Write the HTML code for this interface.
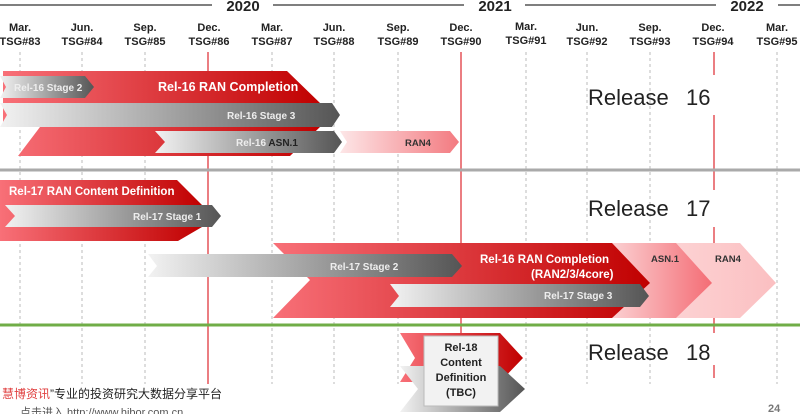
<!DOCTYPE html>
<html><head><meta charset="utf-8"><style>
body{margin:0;width:800px;height:414px;overflow:hidden;background:#fff}
svg{display:block}
text{font-family:"Liberation Sans","Noto Sans CJK SC",sans-serif}
</style></head><body>
<svg width="800" height="414" viewBox="0 0 800 414">
<defs>
<linearGradient id="r" x1="0" x2="1"><stop offset="0" stop-color="#f87078"/><stop offset="1" stop-color="#c00000"/></linearGradient>
<linearGradient id="g" x1="0" x2="1"><stop offset="0" stop-color="#f2f2f2"/><stop offset="1" stop-color="#555"/></linearGradient>
<linearGradient id="p" x1="0" x2="1"><stop offset="0" stop-color="#fde6e7"/><stop offset="1" stop-color="#f37a80"/></linearGradient>
<linearGradient id="p2" x1="0" x2="1"><stop offset="0" stop-color="#fbd0d2"/><stop offset="1" stop-color="#f46d75"/></linearGradient>
<linearGradient id="p3" x1="0" x2="1"><stop offset="0" stop-color="#fcd2d3"/><stop offset="1" stop-color="#fbbfc1"/></linearGradient>
</defs>
<!-- year line -->
<g stroke="#333" stroke-width="1.2">
<line x1="0" y1="5" x2="212" y2="5"/><line x1="273" y1="5" x2="464" y2="5"/><line x1="525" y1="5" x2="716" y2="5"/><line x1="778" y1="5" x2="800" y2="5"/></g>
<g font-size="15" font-weight="bold" fill="#222" text-anchor="middle">
<text x="243" y="11">2020</text><text x="495" y="11">2021</text><text x="747" y="11">2022</text></g>
<g font-size="11" font-weight="bold" fill="#222" text-anchor="middle">
<text x="20" y="31">Mar.</text><text x="20" y="45">TSG#83</text>
<text x="82" y="31">Jun.</text><text x="82" y="45">TSG#84</text>
<text x="145" y="31">Sep.</text><text x="145" y="45">TSG#85</text>
<text x="209" y="31">Dec.</text><text x="209" y="45">TSG#86</text>
<text x="272" y="31">Mar.</text><text x="272" y="45">TSG#87</text>
<text x="334" y="31">Jun.</text><text x="334" y="45">TSG#88</text>
<text x="398" y="31">Sep.</text><text x="398" y="45">TSG#89</text>
<text x="461" y="31">Dec.</text><text x="461" y="45">TSG#90</text>
<text x="526" y="30">Mar.</text><text x="526" y="44">TSG#91</text>
<text x="587" y="31">Jun.</text><text x="587" y="45">TSG#92</text>
<text x="650" y="31">Sep.</text><text x="650" y="45">TSG#93</text>
<text x="713" y="31">Dec.</text><text x="713" y="45">TSG#94</text>
<text x="777" y="31">Mar.</text><text x="777" y="45">TSG#95</text></g>
<g stroke="#bbb" stroke-width="1" stroke-dasharray="3,3">
<line x1="20" y1="52" x2="20" y2="384"/><line x1="82" y1="52" x2="82" y2="384"/><line x1="145" y1="52" x2="145" y2="384"/>
<line x1="272" y1="52" x2="272" y2="384"/><line x1="334" y1="52" x2="334" y2="384"/><line x1="398" y1="52" x2="398" y2="384"/>
<line x1="526" y1="52" x2="526" y2="384"/><line x1="587" y1="52" x2="587" y2="384"/><line x1="650" y1="52" x2="650" y2="384"/><line x1="777" y1="52" x2="777" y2="384"/></g>
<g stroke="#e0393f" stroke-width="1.3">
<line x1="208" y1="52" x2="208" y2="384"/><line x1="461" y1="52" x2="461" y2="384"/>
<line x1="714" y1="52" x2="714" y2="75"/><line x1="714" y1="115" x2="714" y2="190"/><line x1="714" y1="227" x2="714" y2="333"/><line x1="714" y1="365" x2="714" y2="378"/></g>
<!-- Release 16 -->
<polygon points="3,71 287,71 320,103 320,127 290,156 18,156 40,127 3,127" fill="url(#r)"/>
<polygon points="0,76 85,76 94,87 85,98 0,98 6,87" fill="url(#g)"/>
<text x="14" y="91" font-size="10" font-weight="bold" fill="#eee">Rel-16 Stage 2</text>
<text x="158" y="91" font-size="12.5" font-weight="bold" fill="#fff">Rel-16 RAN Completion</text>
<polygon points="0,103 332,103 340,115 332,127 0,127 7,115" fill="url(#g)"/>
<text x="227" y="119" font-size="10" font-weight="bold" fill="#eee">Rel-16 Stage 3</text>
<polygon points="155,131 334,131 342,142 334,153 155,153 165,142" fill="url(#g)"/>
<text x="236" y="146" font-size="10" font-weight="bold" fill="#eee">Rel-16 <tspan fill="#222">ASN.1</tspan></text>
<polygon points="340,131 450,131 459,142 450,153 340,153 347,142" fill="url(#p)"/>
<text x="405" y="146" font-size="9.5" font-weight="bold" fill="#333">RAN4</text>
<text x="588" y="105" font-size="22" fill="#222">Release</text><text x="686" y="105" font-size="22" fill="#222">16</text>
<line x1="0" y1="170" x2="800" y2="170" stroke="#aaa" stroke-width="3"/>
<!-- Release 17 -->
<polygon points="0,180 177,180 202,205 202,227 178,241 0,241" fill="url(#r)"/>
<text x="9" y="195" font-size="11.5" font-weight="bold" fill="#fff">Rel-17 RAN Content Definition</text>
<polygon points="5,205 212,205 221,216 212,227 5,227 15,216" fill="url(#g)"/>
<text x="133" y="220" font-size="10" font-weight="bold" fill="#eee">Rel-17 Stage 1</text>
<polygon points="675,243 740,243 776,283 740,318 675,318 700,283" fill="url(#p3)"/>
<polygon points="612,243 676,243 712,283 676,318 612,318 640,283" fill="url(#p2)"/>
<polygon points="273,243 612,243 650,283 612,318 273,318 310,280" fill="url(#r)"/>
<polygon points="148,254 452,254 462,266 452,277 148,277 157,266" fill="url(#g)"/>
<text x="330" y="270" font-size="10" font-weight="bold" fill="#eee">Rel-17 Stage 2</text>
<text x="480" y="263" font-size="11.5" font-weight="bold" fill="#fff">Rel-16 RAN Completion</text>
<text x="531" y="278" font-size="11.5" font-weight="bold" fill="#fff">(RAN2/3/4core)</text>
<polygon points="390,284 640,284 649,296 640,307 390,307 399,296" fill="url(#g)"/>
<text x="544" y="299" font-size="10" font-weight="bold" fill="#eee">Rel-17 Stage 3</text>
<text x="651" y="262" font-size="9.5" font-weight="bold" fill="#333">ASN.1</text>
<text x="715" y="262" font-size="9.5" font-weight="bold" fill="#333">RAN4</text>
<text x="588" y="216" font-size="22" fill="#222">Release</text><text x="686" y="216" font-size="22" fill="#222">17</text>
<line x1="0" y1="325" x2="800" y2="325" stroke="#70ad47" stroke-width="3"/>
<!-- Release 18 -->
<polygon points="400,333 500,333 523,358 500,382 400,382 415,358" fill="url(#r)"/>
<polygon points="400,366 500,366 525,389 500,412 400,412 418,389" fill="url(#g)"/>
<rect x="424" y="336" width="74" height="70" fill="#f2f2f2" stroke="#bbb"/>
<g font-size="11" font-weight="bold" fill="#222" text-anchor="middle">
<text x="461" y="351">Rel-18</text><text x="461" y="366">Content</text><text x="461" y="381">Definition</text><text x="461" y="396">(TBC)</text></g>
<text x="588" y="360" font-size="22" fill="#222">Release</text><text x="686" y="360" font-size="22" fill="#222">18</text>
<text x="2" y="398" font-size="12" fill="#222"><tspan fill="#e04040">慧博资讯</tspan>”专业的投资研究大数据分享平台</text>
<text x="20" y="416" font-size="11" fill="#555">点击进入 http://www.hibor.com.cn</text>
<text x="768" y="412" font-size="11" font-weight="bold" fill="#777">24</text>
</svg>
</body></html>
